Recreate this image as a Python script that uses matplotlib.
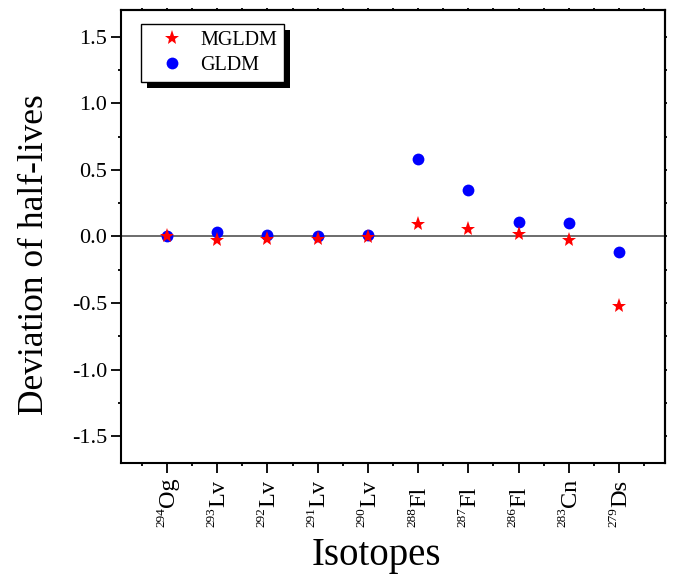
import numpy as np
import matplotlib.pyplot as plt
import matplotlib.patheffects as pe

plt.rcParams['font.family'] = 'Liberation Serif'

mass = ['294', '293', '292', '291', '290', '288', '287', '286', '283', '279']
element = ['Og', 'Lv', 'Lv', 'Lv', 'Lv', 'Fl', 'Fl', 'Fl', 'Cn', 'Ds']
mgldm = [0.0, -0.025, -0.02, -0.02, -0.005, 0.093, 0.053, 0.02, -0.025, -0.52]
gldm = [0.0, 0.035, 0.01, 0.0, 0.015, 0.58, 0.35, 0.11, 0.10, -0.12]

x = np.arange(1, len(mass) + 1)
yticks = [-1.5, -1.0, -0.5, 0.0, 0.5, 1.0, 1.5]
yminor = np.arange(-1.5, 1.75, 0.25)
xminor = np.arange(0.5, 11.5, 1)

fig = plt.figure(figsize=(6.83, 5.75), dpi=100)
ax = fig.add_axes([121 / 683, 112 / 575, 544 / 683, 453 / 575])

ax.axhline(0, color='#606060', lw=1.3, zorder=1)
ax.plot(x, mgldm, ls='none', marker='*', color='red', ms=11, mew=0,
        label='MGLDM', zorder=3)
ax.plot(x, gldm, ls='none', marker='o', color='blue', ms=8.5, mew=0,
        label='GLDM', zorder=2)

ax.set_xlim(0.085, 10.915)
ax.set_ylim(-1.7, 1.7)
ax.set_xticks(x)
ax.set_xticklabels([])
ax.set_xticks(xminor, minor=True)
ax.set_yticks(yticks)
ax.set_yticklabels(['%.1f' % v for v in yticks], fontsize=16)
ax.set_yticks(yminor, minor=True)

ax.tick_params(which='both', direction='out', width=1.3, pad=3)
ax.tick_params(which='major', length=7)
ax.tick_params(which='minor', length=2)
for s in ax.spines.values():
    s.set_linewidth(1.5)

# top and right axes only carry tiny tick marks
top = ax.secondary_xaxis('top')
top.set_xticks(x)
top.set_xticks(xminor, minor=True)
top.set_xticklabels([])
right = ax.secondary_yaxis('right')
right.set_yticks(yticks)
right.set_yticks(yminor, minor=True)
right.set_yticklabels([])
for sec in (top, right):
    sec.tick_params(which='both', direction='out', length=1.5, width=1.3)
    for s in sec.spines.values():
        s.set_linewidth(1.5)

# isotope labels: small mass number followed by the element symbol, rotated
for xi, m, e in zip(x, mass, element):
    sup = ax.annotate(m, xy=(xi, 0), xycoords=('data', 'axes fraction'),
                      xytext=(-3, -64), textcoords='offset pixels',
                      rotation=90, rotation_mode='anchor', ha='left',
                      va='baseline', fontsize=9.5)
    ax.annotate(e, xy=(xi, 1.0), xycoords=('data', sup),
                xytext=(7, 0), textcoords='offset pixels',
                rotation=90, rotation_mode='anchor', ha='left',
                va='baseline', fontsize=17.5)

ax.set_xlabel('Isotopes', fontsize=28)
ax.xaxis.set_label_coords(0.469, -0.225)
ax.xaxis.label.set_verticalalignment('baseline')
ax.set_ylabel('Deviation of half-lives', fontsize=25.5)
ax.yaxis.set_label_coords(-0.128, 0.459)

leg = ax.legend(loc='upper left', bbox_to_anchor=(0.037, 0.969), borderaxespad=0,
                fontsize=14.5, fancybox=False, edgecolor='black', framealpha=1,
                borderpad=0.35, labelspacing=0.3, handlelength=2.4,
                handletextpad=0.2)
frame = leg.get_frame()
frame.set_linewidth(1.0)
frame.set_path_effects([pe.SimplePatchShadow(offset=(4.3, -4.3), shadow_rgbFace='black',
                                             alpha=1), pe.Normal()])

fig.savefig('out.png', dpi=100)
